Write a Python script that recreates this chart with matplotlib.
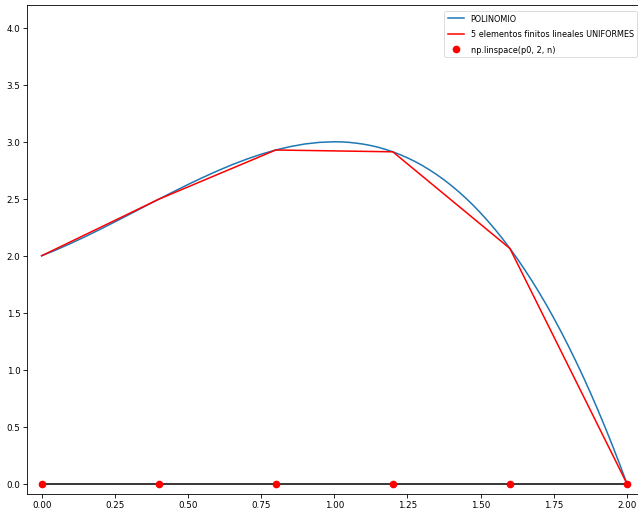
import numpy as np
import matplotlib
matplotlib.use("Agg")
import matplotlib.pyplot as plt

# curve
x_poli = [0.00, 0.05, 0.10, 0.15, 0.20, 0.25, 0.30, 0.35, 0.40, 0.45,
          0.50, 0.55, 0.60, 0.65, 0.70, 0.75, 0.80, 0.85, 0.90, 0.95,
          1.00, 1.025, 1.05, 1.075, 1.10, 1.125, 1.15, 1.175, 1.20, 1.225,
          1.25, 1.275, 1.30, 1.325, 1.35, 1.375, 1.40, 1.425, 1.45, 1.475,
          1.50, 1.525, 1.55, 1.575, 1.60, 1.625, 1.65, 1.675, 1.70, 1.725,
          1.75, 1.775, 1.80, 1.825, 1.85, 1.875, 1.90, 1.925, 1.95, 1.975, 2.00]
y_poli = [2.000, 2.052, 2.109, 2.169, 2.232, 2.297, 2.363, 2.430, 2.496, 2.561,
          2.625, 2.686, 2.744, 2.798, 2.847, 2.891, 2.928, 2.958, 2.981, 2.995,
          3.000, 2.999, 2.995, 2.988, 2.979, 2.967, 2.952, 2.933, 2.912, 2.887,
          2.859, 2.828, 2.793, 2.754, 2.712, 2.666, 2.616, 2.562, 2.504, 2.442,
          2.375, 2.304, 2.229, 2.149, 2.064, 1.975, 1.880, 1.781, 1.677, 1.568,
          1.453, 1.333, 1.208, 1.077, 0.941, 0.799, 0.651, 0.497, 0.338, 0.172, 0.000]

# nodes of the 5 linear elements
nodos = [0.0, 0.4, 0.8, 1.2, 1.6, 2.0]
y_fe = [2.000, 2.496, 2.928, 2.912, 2.064, 0.000]
ceros = [0, 0, 0, 0, 0, 0]

plt.rcParams['xtick.major.size'] = 2.6
plt.rcParams['ytick.major.size'] = 2.6
plt.rcParams['axes.linewidth'] = 0.6

fig = plt.figure(figsize=(6.38, 5.10), dpi=100)
ax = fig.add_axes([27/638, 1 - 495/510, (641.6 - 27)/638, (495 - 6)/510])

ax.plot(x_poli, y_poli, color='C0', lw=1.1, label='POLINOMIO')
ax.plot(nodos, y_fe, color='r', lw=1.1, label='5 elementos finitos lineales UNIFORMES')
ax.plot(nodos, ceros, color='k', lw=1.1)
ax.plot(nodos, ceros, 'ro', ms=4.5, label='np.linspace(p0, 2, n)')

ax.set_xlim(-0.05, 2.05)
ax.set_ylim(-0.09, 4.2)
ax.set_xticks([0, 0.25, 0.5, 0.75, 1.0, 1.25, 1.5, 1.75, 2.0])
ax.set_yticks([0, 0.5, 1.0, 1.5, 2.0, 2.5, 3.0, 3.5, 4.0])
ax.tick_params(labelsize=6.3, width=0.6, pad=2.0)

leg = ax.legend(loc='upper right', bbox_to_anchor=((637 - 27) / (641.6 - 27), 1 - 6/489),
                fontsize=5.9, borderaxespad=0.0, handlelength=2.0, labelspacing=0.75,
                frameon=True)
leg.get_frame().set_linewidth(0.6)

fig.savefig('out.png', dpi=100)
